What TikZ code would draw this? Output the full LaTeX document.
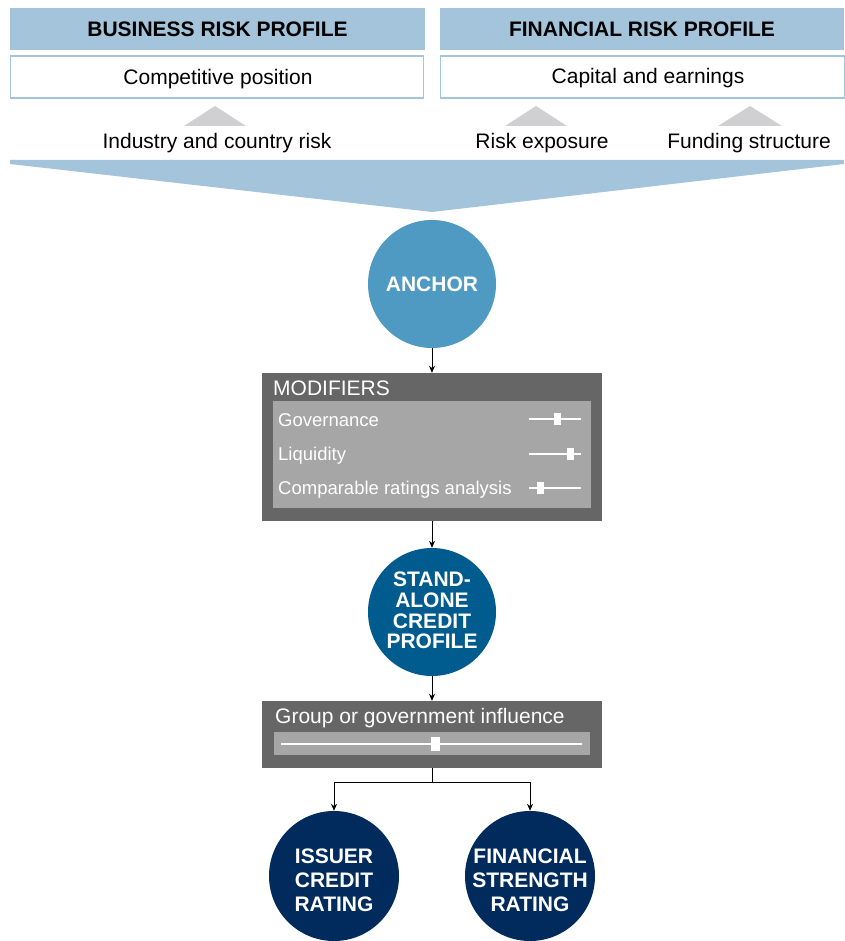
\documentclass[tikz,border=0pt]{standalone}
\usepackage{fontspec}
\setmainfont{Liberation Sans}
\usetikzlibrary{arrows.meta}
\definecolor{hdrblue}{HTML}{A3C4DA}
\definecolor{tri}{HTML}{D0D0D2}
\definecolor{anchorc}{HTML}{4F9AC3}
\definecolor{sacp}{HTML}{005B8E}
\definecolor{navy}{HTML}{002B5C}
\definecolor{dgray}{HTML}{666666}
\definecolor{lgray}{HTML}{A6A6A6}
\begin{document}
\begin{tikzpicture}[x=1pt,y=-1pt,
  hdr/.style={fill=hdrblue,draw=none,minimum height=42pt,inner sep=0pt,font=\fontsize{21}{24}\selectfont\bfseries},
  sub/.style={fill=white,draw=hdrblue,line width=1.2pt,minimum height=42pt,inner sep=0pt,font=\fontsize{21}{24}\selectfont},
  lbl/.style={inner sep=0pt,font=\fontsize{21}{24}\selectfont},
  tri/.style={fill=tri,draw=none},
  bigcirc/.style={circle,draw=none,inner sep=0pt,text=white,align=center},
  outerbox/.style={fill=dgray,draw=none,inner sep=0pt},
  innerbox/.style={fill=lgray,draw=none,inner sep=0pt},
  item/.style={text=white,inner sep=0pt,anchor=west,font=\fontsize{18.5}{22}\selectfont},
  knob/.style={fill=white,draw=none,inner sep=0pt,minimum width=7pt,minimum height=12pt},
  arr/.style={-{Stealth[length=7pt,width=6pt]},line width=0.9pt,black},
]
\useasboundingbox (0,0) rectangle (844,941);
% headers
\node[hdr,minimum width=415pt] (bhdr) at (217.5,29) {BUSINESS RISK PROFILE};
\node[hdr,minimum width=404pt] (fhdr) at (642,29) {FINANCIAL RISK PROFILE};
\node[sub,minimum width=413pt] (comp) at (217,77) {};
\node[sub,minimum width=404pt] (cap) at (642.5,77) {};
\node[lbl] (compt) at (218,79) {Competitive position};
\node[lbl] (capt) at (648,78.5) {Capital and earnings};
% triangles
\fill[tri] (184,126) -- (215,106) -- (246,126) -- cycle;
\fill[tri] (505,126) -- (536,106) -- (567,126) -- cycle;
\fill[tri] (718,126) -- (750,106) -- (782,126) -- cycle;
\node[lbl] (ind) at (217,143) {Industry and country risk};
\node[lbl] (risk) at (542,143) {Risk exposure};
\node[lbl] (fund) at (749,143) {Funding structure};
% funnel
\fill[hdrblue] (10,160) -- (844,160) -- (844,164) -- (432,212) -- (10,164) -- cycle;
% anchor
\node[bigcirc,fill=anchorc,minimum size=128pt,font=\fontsize{21}{24}\selectfont\bfseries] (anchor) at (432,284) {ANCHOR};
% modifiers
\node[outerbox,minimum width=340pt,minimum height=148pt] (mod) at (432,447) {};
\node[innerbox,minimum width=318pt,minimum height=107pt] (modin) at (432,454.5) {};
\node[text=white,inner sep=0pt,anchor=west,font=\fontsize{21}{24}\selectfont] (modt) at (273,388) {MODIFIERS};
\node[item] (gov) at (278,420.5) {Governance};
\node[item] (liq) at (278,455.5) {Liquidity};
\node[item] (cra) at (278,489.5) {Comparable ratings analysis};
\draw[white,line width=1.6pt] (529,419) -- (581,419);
\draw[white,line width=1.6pt] (529,454) -- (581,454);
\draw[white,line width=1.6pt] (529,488) -- (581,488);
\node[knob] (k1) at (557,419) {};
\node[knob] (k2) at (570,454) {};
\node[knob] (k3) at (540,488) {};
% SACP
\node[bigcirc,fill=sacp,minimum size=128pt] (sacp) at (432,612) {};
\node[text=white,align=center,inner sep=0pt,font=\fontsize{21}{20.7}\selectfont\bfseries] (sacpt) at (432,610.5) {STAND-\\ALONE\\CREDIT\\PROFILE};
% group
\node[outerbox,minimum width=340pt,minimum height=67pt] (grp) at (432,734.5) {};
\node[innerbox,minimum width=316pt,minimum height=23pt] (grpin) at (432,743.5) {};
\node[text=white,inner sep=0pt,anchor=west,font=\fontsize{21}{24}\selectfont] (grpt) at (275,718.5) {Group or government influence};
\draw[white,line width=1.6pt] (281,744) -- (582,744);
\node[knob,minimum width=9pt,minimum height=14pt] (k4) at (435,744) {};
% ratings
\node[bigcirc,fill=navy,minimum size=130pt] (icr) at (334,876) {};
\node[bigcirc,fill=navy,minimum size=130pt] (fsr) at (530,876) {};
\node[text=white,align=center,inner sep=0pt,font=\fontsize{21}{24}\selectfont\bfseries] (icrt) at (334,880) {ISSUER\\CREDIT\\RATING};
\node[text=white,align=center,inner sep=0pt,font=\fontsize{21}{24}\selectfont\bfseries] (fsrt) at (530,880) {FINANCIAL\\STRENGTH\\RATING};
% connectors
\draw[arr] (anchor) -- (mod);
\draw[arr] (mod) -- (sacp);
\draw[arr] (sacp) -- (grp);
\coordinate (split) at (432,782);
\draw[line width=0.9pt] (grp.south) -- (split);
\draw[arr] (split) -| (icr.north);
\draw[arr] (split) -| (fsr.north);
\end{tikzpicture}
\end{document}
